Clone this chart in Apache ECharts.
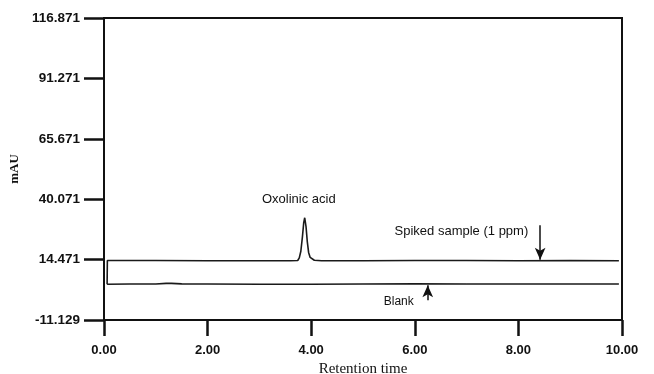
<!DOCTYPE html>
<html>
<head>
<meta charset="utf-8">
<script src="https://cdn.jsdelivr.net/npm/echarts@6/dist/echarts.min.js"></script>
<style>
html,body{margin:0;padding:0;background:#fff;}
#chart{width:654px;height:374px;}
</style>
</head>
<body>
<div id="chart"></div>
<script>
// Retention time (min) and absorbance (mAU)
const spikedTime = [0.06, 0.065, 1.0, 2.0, 3.0, 3.6, 3.74, 3.77, 3.80, 3.83, 3.855, 3.875, 3.90, 3.925, 3.95, 3.98, 4.01, 4.06, 4.2, 5.0, 6.0, 7.0, 8.0, 9.0, 9.94];
const spikedValue = [4.0, 14.1, 14.1, 14.0, 14.0, 14.0, 14.1, 15.2, 18.0, 24.0, 30.0, 32.2, 28.5, 22.0, 17.5, 15.4, 14.6, 14.2, 14.0, 14.0, 14.1, 14.1, 14.0, 14.1, 14.0];
const blankTime = [0.06, 0.5, 1.0, 1.2, 1.3, 1.5, 1.7, 2.0, 3.0, 4.0, 5.0, 6.0, 7.0, 8.0, 9.0, 9.94];
const blankValue = [4.0, 4.1, 4.1, 4.4, 4.4, 4.2, 4.1, 4.1, 4.0, 4.0, 4.1, 4.2, 4.1, 4.1, 4.1, 4.1];
const yTickLabels = ['-11.129', '14.471', '40.071', '65.671', '91.271', '116.871'];
const xTickLabels = ['0.00', '2.00', '4.00', '6.00', '8.00', '10.00'];

const yTicks = yTickLabels.map(Number);
const xTicks = xTickLabels.map(Number);
const spiked = spikedTime.map((t, i) => [t, spikedValue[i]]);
const blank = blankTime.map((t, i) => [t, blankValue[i]]);

const chart = echarts.init(document.getElementById('chart'), null, {renderer: 'canvas'});
const font = 'Liberation Sans';
chart.setOption({
  animation: false,
  backgroundColor: '#fff',
  grid: {left: 104, right: 32, top: 18, bottom: 54, containLabel: false, outerBoundsMode: 'none',
    show: true, borderColor: '#111', borderWidth: 2, backgroundColor: 'transparent'},
  xAxis: {
    type: 'value', min: xTicks[0], max: xTicks[xTicks.length - 1], interval: 2,
    axisLine: {show: true, onZero: false, lineStyle: {color: '#111', width: 2}},
    axisTick: {show: true, length: 16, lineStyle: {color: '#111', width: 2.5}},
    axisLabel: {margin: 24, color: '#111', fontFamily: font, fontSize: 13, fontWeight: 'bold', formatter: v => v.toFixed(2)},
    splitLine: {show: false},
    name: 'Retention time', nameLocation: 'middle', nameGap: 40,
    nameTextStyle: {fontFamily: 'Liberation Serif', fontSize: 15, color: '#111'}
  },
  yAxis: {
    type: 'value', min: yTicks[0], max: yTicks[yTicks.length - 1],
    axisLine: {show: true, onZero: false, lineStyle: {color: '#111', width: 2}},
    axisTick: {show: true, length: 20, customValues: yTicks, lineStyle: {color: '#111', width: 2.5}},
    axisLabel: {margin: 24, color: '#111', fontFamily: font, fontSize: 13.5, fontWeight: 'bold', customValues: yTicks,
      formatter: v => yTickLabels[yTicks.indexOf(v)] ?? v.toFixed(3)},
    splitLine: {show: false},
    name: 'mAU', nameLocation: 'middle', nameGap: 80, nameRotate: 90,
    nameTextStyle: {fontFamily: 'Liberation Serif', fontSize: 13, fontWeight: 'bold', color: '#111'}
  },
  series: [
    {
      name: 'Spiked sample (1 ppm)', type: 'line', data: spiked, showSymbol: false, symbol: 'none',
      lineStyle: {color: '#1a1a1a', width: 1.6},
      markLine: {
        silent: true, symbol: ['none', 'arrow'], symbolSize: [8, 12], label: {show: false},
        lineStyle: {color: '#111', width: 1.5, type: 'solid'},
        data: [[{coord: [8.42, 29.0]}, {coord: [8.42, 14.4]}]]
      },
      markPoint: {
        silent: true, symbol: 'circle', symbolSize: 0,
        label: {show: true, color: '#111', fontFamily: font, fontSize: 13, formatter: p => p.name},
        data: [
          {name: 'Oxolinic acid', coord: [3.76, 39.8]},
          {name: 'Spiked sample (1 ppm)', coord: [6.9, 26.4]}
        ]
      }
    },
    {
      name: 'Blank', type: 'line', data: blank, showSymbol: false, symbol: 'none',
      lineStyle: {color: '#1a1a1a', width: 1.6},
      markLine: {
        silent: true, symbol: ['none', 'arrow'], symbolSize: [8, 12], label: {show: false},
        lineStyle: {color: '#111', width: 1.5, type: 'solid'},
        data: [[{coord: [6.25, -2.8]}, {coord: [6.25, 3.6]}]]
      },
      markPoint: {
        silent: true, symbol: 'circle', symbolSize: 0,
        label: {show: true, color: '#111', fontFamily: font, fontSize: 12, formatter: p => p.name},
        data: [{name: 'Blank', coord: [5.69, -3.2]}]
      }
    }
  ]
});
</script>
</body>
</html>
